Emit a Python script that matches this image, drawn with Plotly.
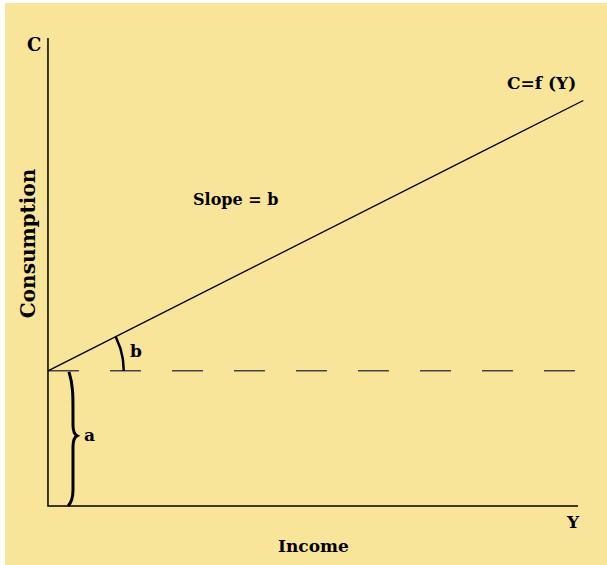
import numpy as np
import plotly.graph_objects as go

# ---- data (Keynesian consumption function C = a + bY) ----
a = 2.55            # autonomous consumption
b = 0.505           # marginal propensity to consume (slope)
income_max = 10.1   # end of consumption line
x_axis_len = 10.0
y_axis_len = 8.83
dash_len = 9.95
arc_radius = 1.43

income = [0.0, income_max]
consumption = [a + b * v for v in income]

BG = "#f9e599"
FONT = "DejaVu Serif"

fig = go.Figure()

# axes
fig.add_trace(go.Scatter(x=[0, 0, x_axis_len], y=[y_axis_len, 0, 0], mode="lines",
                         line=dict(color="black", width=1.5), hoverinfo="skip"))
# dashed reference at C = a
fig.add_trace(go.Scatter(x=[0, dash_len], y=[a, a], mode="lines",
                         line=dict(color="#444444", width=1.5, dash="31px,31px"), hoverinfo="skip"))
# consumption function
fig.add_trace(go.Scatter(x=income, y=consumption, mode="lines",
                         line=dict(color="black", width=1.3), hoverinfo="skip"))
# angle arc
theta = np.linspace(0, np.arctan(b), 30)
fig.add_trace(go.Scatter(x=arc_radius * np.cos(theta), y=a + arc_radius * np.sin(theta), mode="lines",
                         line=dict(color="black", width=2.5), hoverinfo="skip"))

# curly brace for "a"
def bx(px):
    return px / 53.0
def by(py):
    return a - py / 53.0
h = a * 53.0
pts = [(21, 1), (25, 14), (25, 24), (25, 39), (25, 54), (25, 61), (27, 64), (29, 65),
       (27, 66), (25, 69), (25, 76), (25, h - 16), (25, h - 7), (23, h - 3), (20, h)]
path = "M {},{} ".format(bx(pts[0][0]), by(pts[0][1]))
path += "C {},{} {},{} {},{} ".format(bx(pts[1][0]), by(pts[1][1]), bx(pts[2][0]), by(pts[2][1]), bx(pts[3][0]), by(pts[3][1]))
path += "L {},{} ".format(bx(pts[4][0]), by(pts[4][1]))
path += "C {},{} {},{} {},{} ".format(bx(pts[5][0]), by(pts[5][1]), bx(pts[6][0]), by(pts[6][1]), bx(pts[7][0]), by(pts[7][1]))
path += "C {},{} {},{} {},{} ".format(bx(pts[8][0]), by(pts[8][1]), bx(pts[9][0]), by(pts[9][1]), bx(pts[10][0]), by(pts[10][1]))
path += "L {},{} ".format(bx(pts[11][0]), by(pts[11][1]))
path += "C {},{} {},{} {},{}".format(bx(pts[12][0]), by(pts[12][1]), bx(pts[13][0]), by(pts[13][1]), bx(pts[14][0]), by(pts[14][1]))
fig.add_shape(type="path", path=path, xref="x", yref="y", line=dict(color="black", width=3))

def label(text, x, y, size=17, angle=0):
    fig.add_annotation(text=text, x=x, y=y, xref="x", yref="y", showarrow=False, textangle=angle,
                       font=dict(family=FONT, size=size, color="black", weight=700))

label("C", -0.264, 8.717, size=18)
label("C=f (Y)", 9.32, 7.98)
label("Slope = b", 3.547, 5.79, size=16)
label("b", 1.66, 2.92)
label("a", 0.79, 1.34)
label("Y", 9.906, -0.30)
label("Income", 5.0, -0.755)
label("Consumption", -0.377, 4.96, size=20, angle=-90)

fig.update_layout(
    width=607, height=565,
    margin=dict(l=5, t=3, r=0, b=0),
    paper_bgcolor="white", plot_bgcolor=BG,
    showlegend=False,
    xaxis=dict(range=[-0.811, 10.547], visible=False, fixedrange=True),
    yaxis=dict(range=[-1.113, 9.491], visible=False, fixedrange=True),
)
fig.write_html("out.html", config={"displayModeBar": False},
               post_script="document.body.style.margin='0';")
